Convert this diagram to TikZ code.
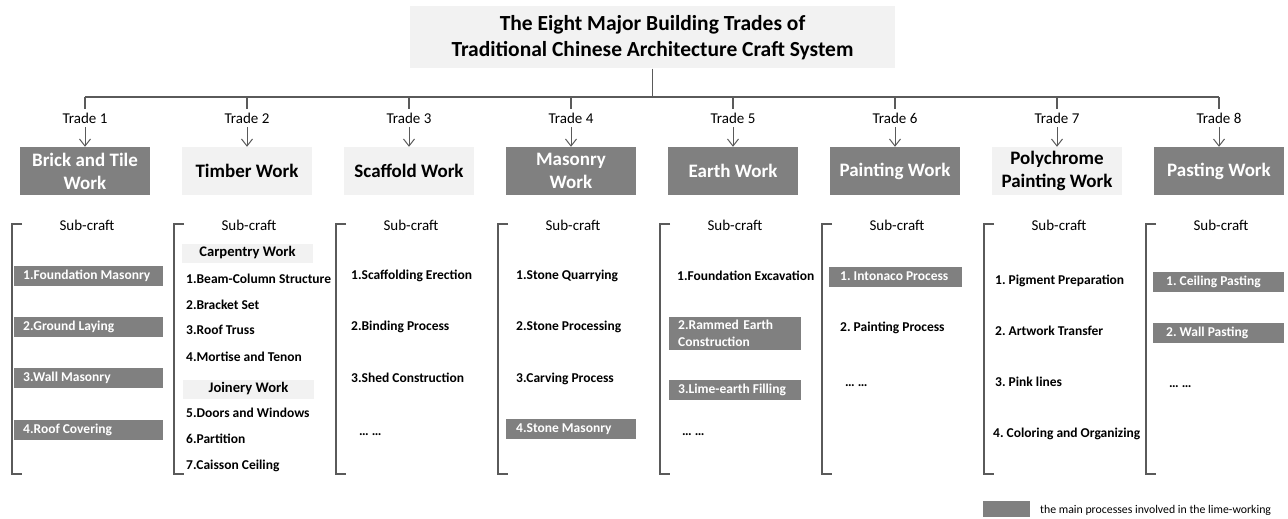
\documentclass[tikz,border=0pt]{standalone}
\usepackage{fontspec}
\setmainfont{Carlito}
\usetikzlibrary{arrows.meta}
\definecolor{darkbar}{HTML}{808080}
\definecolor{lightbar}{HTML}{F2F2F2}
\definecolor{linegray}{HTML}{5A5A5A}
\frenchspacing
% one-line label of a given width, set flush left
\newcommand\barline[2]{\makebox[#1pt][l]{#2}}
\begin{document}
\begin{tikzpicture}[x=1pt,y=-1pt,
  titlebox/.style={fill=lightbar,minimum width=485,minimum height=62,inner sep=0,align=center,
    font=\fontsize{21.5}{26}\selectfont\bfseries},
  tradedark/.style={fill=darkbar,text=white,minimum width=130,minimum height=48,inner sep=0,align=center,
    font=\fontsize{19}{23}\selectfont\bfseries},
  tradelight/.style={tradedark,fill=lightbar,text=black},
  tradelab/.style={inner xsep=1,inner ysep=4,font=\fontsize{15}{17}\selectfont},
  sublab/.style={inner sep=0,font=\fontsize{15}{17}\selectfont},
  item/.style={anchor=west,inner sep=0,text height=9.5,text depth=3,font=\fontsize{13.5}{17}\selectfont\bfseries},
  bar/.style={item,fill=darkbar,text=white,minimum height=20,inner ysep=0},
  header/.style={fill=lightbar,minimum width=131,minimum height=19,inner sep=0,
    font=\fontsize{14.6}{17}\selectfont\bfseries},
  bus/.style={draw=linegray,line width=1.3pt},
  tip/.style={draw=linegray,line width=1pt,-{Straight Barb[length=7pt,width=11pt]}},
  bracket/.style={draw=linegray,line width=1.1pt},
  legtext/.style={anchor=west,inner sep=0,font=\fontsize{11.8}{14}\selectfont}
]
\useasboundingbox (0,0) rectangle (1288,519);

% title and trunk
\node[titlebox] (title) at (652.5,37.5)
  {The Eight Major Building Trades of\\Traditional Chinese Architecture Craft System};

% bus junctions above each trade
\foreach \i/\x in {1/85,2/247,3/409,4/571,5/733,6/895,7/1057,8/1219}{
  \coordinate (b\i) at (\x,97);
  \node[tradelab] (tl\i) at (\x,118) {Trade \i};
}
\draw[bus] (title.south) -- (title.south |- b1);
\draw[bus] (b1) -- (b8);

% trade boxes
\node[tradedark]  (tr1) at (85,171)   {Brick and Tile\\Work};
\node[tradelight] (tr2) at (247,171)  {Timber Work};
\node[tradelight] (tr3) at (409,171)  {Scaffold Work};
\node[tradedark]  (tr4) at (571,171)  {Masonry\\Work};
\node[tradedark]  (tr5) at (733,171)  {Earth Work};
\node[tradedark]  (tr6) at (895,171)  {Painting Work};
\node[tradelight] (tr7) at (1057,171) {Polychrome\\Painting Work};
\node[tradedark]  (tr8) at (1219,171) {Pasting Work};

\foreach \i in {1,...,8}{
  \draw[bus] (b\i) -- (tl\i.north);
  \draw[tip] (tl\i.south) -- (tr\i.north);
}

% sub-craft brackets
\foreach \i/\x in {1/12,2/174,3/336,4/498,5/660,6/822,7/984,8/1146}{
  \coordinate (bt\i) at (\x,224);
  \coordinate (bb\i) at (\x,474);
  \draw[bracket] ([xshift=10pt]bt\i) -- (bt\i) -- (bb\i) -- ([xshift=10pt]bb\i);
  \node[sublab] (sc\i) at (\x+75,225) {Sub-craft};
}

% trade 1: brick and tile work
\node[bar,inner xsep=9] (c1a) at (14,276) {\barline{131}{1.Foundation Masonry}};
\node[bar,inner xsep=9] (c1b) at (14,327) {\barline{131}{2.Ground Laying}};
\node[bar,inner xsep=9] (c1c) at (14,378) {\barline{131}{3.Wall Masonry}};
\node[bar,inner xsep=9] (c1d) at (14,430) {\barline{131}{4.Roof Covering}};

% trade 2: timber work
\node[header] (c2h1) at (247.5,253) {Carpentry Work};
\node[item] (c2a) at (186,280) {1.Beam-Column Structure};
\node[item] (c2b) at (186,306) {2.Bracket Set};
\node[item] (c2c) at (186,331) {3.Roof Truss};
\node[item] (c2d) at (186,358) {4.Mortise and Tenon};
\node[header] (c2h2) at (248.5,389) {Joinery Work};
\node[item] (c2e) at (186,414) {5.Doors and Windows};
\node[item] (c2f) at (186,440) {6.Partition};
\node[item] (c2g) at (186,466) {7.Caisson Ceiling};

% trade 3: scaffold work
\node[item] (c3a) at (351,276) {1.Scaffolding Erection};
\node[item] (c3b) at (351,327) {2.Binding Process};
\node[item] (c3c) at (351,379) {3.Shed Construction};
\node[item] (c3d) at (359,432) {… …};

% trade 4: masonry work
\node[bar,inner xsep=10] (c4d) at (506,429) {\barline{110}{4.Stone Masonry}};
\node[item] (c4a) at (516,276) {1.Stone Quarrying};
\node[item] (c4b) at (516,327) {2.Stone Processing};
\node[item] (c4c) at (516,379) {3.Carving Process};

% trade 5: earth work
\node[bar,inner xsep=9,text height=,text depth=,align=left,text width=114,minimum height=33]
  (c5b) at (669,333) {2.Rammed Earth\\Construction};
\node[item] (c5a) at (677,277) {1.Foundation Excavation};
\node[bar,inner xsep=9] (c5c) at (669,390) {\barline{114}{3.Lime-earth Filling}};
\node[item] (c5d) at (682,432) {… …};

% trade 6: painting work
\node[bar,inner xsep=11] (c6a) at (829,277) {\barline{111}{1. Intonaco Process}};
\node[item] (c6b) at (840,328) {2. Painting Process};
\node[item] (c6c) at (845,383) {… …};

% trade 7: polychrome painting work
\node[item] (c7a) at (995,281) {1. Pigment Preparation};
\node[item] (c7b) at (995,332) {2. Artwork Transfer};
\node[item] (c7c) at (995,383) {3. Pink lines};
\node[item] (c7d) at (993,434) {4. Coloring and Organizing};

% trade 8: pasting work
\node[bar,inner xsep=13] (c8a) at (1153,282) {\barline{105}{1. Ceiling Pasting}};
\node[bar,inner xsep=13] (c8b) at (1153,333) {\barline{105}{2. Wall Pasting}};
\node[item] (c8c) at (1169,384) {… …};

% legend
\node[fill=darkbar,minimum width=47,minimum height=16,inner sep=0] (leg) at (1006.5,509) {};
\node[legtext] (legt) at (1040,510) {the main processes involved in the lime-working};
\end{tikzpicture}
\end{document}
